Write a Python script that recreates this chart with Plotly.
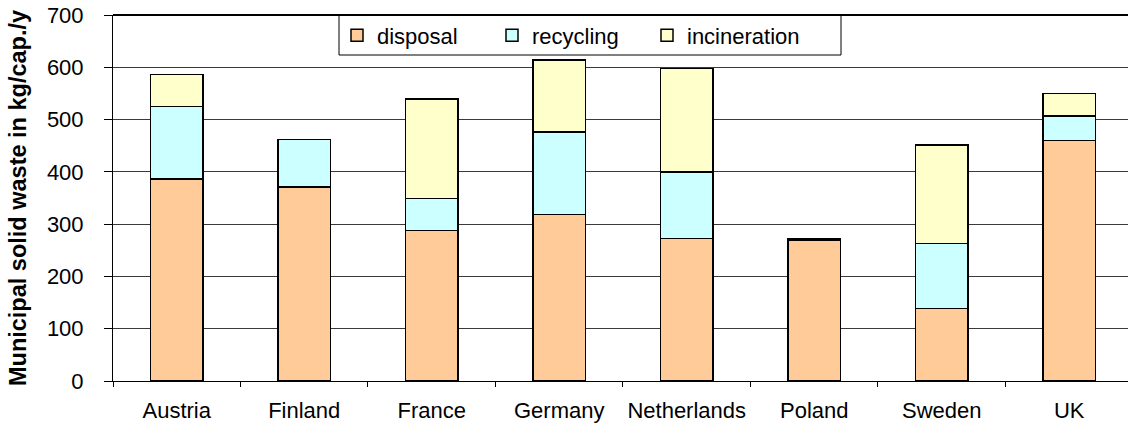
import plotly.graph_objects as go

countries = ["Austria", "Finland", "France", "Germany", "Netherlands", "Poland", "Sweden", "UK"]
disposal = [386, 371, 288, 318, 273, 270, 139, 460]
recycling = [139, 91, 61, 158, 127, 2, 124, 47]
incineration = [61, 0, 190, 138, 198, 1, 188, 43]
y_ticks = [0, 100, 200, 300, 400, 500, 600, 700]

FONT = "Liberation Sans, Arial, sans-serif"

# plot area geometry (pixels)
L, T, B = 113, 15, 46
W, H = 1128, 427
PW, PH = W - L, H - T - B


def px_x(x):
    return (x - L) / PW


def px_y(y):
    return (H - B - y) / PH


fig = go.Figure()
for name, vals, col in [("disposal", disposal, "#FFCC99"),
                        ("recycling", recycling, "#CCFFFF"),
                        ("incineration", incineration, "#FFFFCC")]:
    fig.add_trace(go.Bar(
        x=countries, y=vals, name=name,
        marker=dict(color=col, line=dict(color="#000000", width=1.5)),
        width=0.415,
    ))

fig.update_layout(
    template="none",
    barmode="stack",
    width=W, height=H,
    margin=dict(l=L, r=0, t=T, b=B, pad=0),
    paper_bgcolor="white", plot_bgcolor="white",
    font=dict(family=FONT, size=22, color="black"),
    showlegend=True,
    legend=dict(
        orientation="h",
        x=px_x(337), xanchor="left",
        y=px_y(35.5), yanchor="middle",
        bgcolor="rgba(0,0,0,0)", borderwidth=0,
        font=dict(family=FONT, size=22, color="black"),
        itemwidth=30,
        entrywidth=110, entrywidthmode="pixels",
        traceorder="normal",
    ),
    xaxis=dict(
        type="category",
        range=[-0.5, 7.461],
        showline=True, linecolor="black", linewidth=1,
        ticks="outside", tickson="boundaries", ticklen=5, tickcolor="black",
        showgrid=False, zeroline=False, tickangle=0,
        tickfont=dict(family=FONT, size=22, color="black"),
        ticklabelstandoff=10,
        automargin=False,
    ),
    yaxis=dict(
        range=[0, 700],
        tickvals=y_ticks,
        showline=True, linecolor="black", linewidth=1,
        ticks="outside", ticklen=8, tickcolor="black",
        showgrid=True, gridcolor="#3a3a3a", gridwidth=1,
        zeroline=False,
        tickfont=dict(family=FONT, size=22, color="black"),
        ticklabelstandoff=16,
        title=dict(text="<b>Municipal solid waste in kg/cap./y</b>",
                   font=dict(family=FONT, size=23.5, color="black"),
                   standoff=13),
        automargin=False,
    ),
)
# top border line of plot area
fig.add_shape(type="line", xref="paper", yref="paper", x0=0, x1=1, y0=1, y1=1,
              line=dict(color="black", width=2))
# legend frame
fig.add_shape(type="rect", xref="paper", yref="paper",
              x0=px_x(339), x1=px_x(841), y0=px_y(55), y1=px_y(15.5),
              fillcolor="white", line=dict(color="black", width=1), layer="above")

fig.write_html("out.html")
